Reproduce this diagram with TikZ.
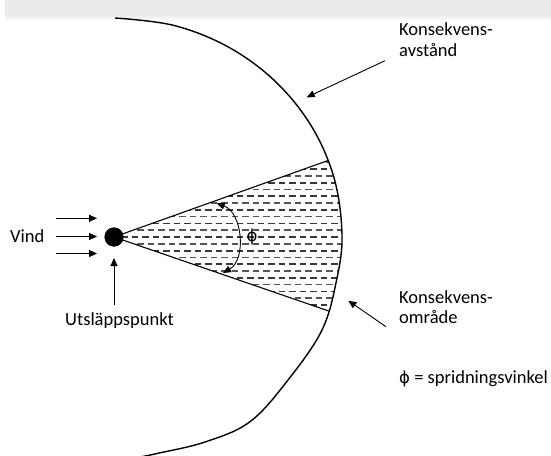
\documentclass[tikz,border=0pt]{standalone}
\usepackage{fontspec}
\setmainfont{Carlito}
\newfontfamily\phifont{DejaVu Sans}
\usetikzlibrary{arrows.meta}
\definecolor{bandgray}{RGB}{235,235,233}
\definecolor{dashdark}{RGB}{55,55,55}
\definecolor{dashlight}{RGB}{85,85,85}
\newcommand{\phig}{{\phifont\fontsize{16.5}{20}\selectfont ϕ}}
\begin{document}
\begin{tikzpicture}[x=1pt,y=-1pt,
  lbl/.style={font=\fontsize{18.5}{20.7}\selectfont, inner sep=0, align=left, anchor=base west},
  arr/.style={line width=0.9pt, -{Triangle[length=8pt,width=7pt]}},
  dblarr/.style={line width=0.9pt, {Triangle[length=8pt,width=7pt]}-{Triangle[length=8pt,width=7pt]}},
  edge/.style={line width=1.1pt},
  bigarc/.style={line width=1.4pt},
  dot/.style={circle, fill=black, minimum size=19pt, inner sep=0}]
\useasboundingbox (0,0) rectangle (551,455);
% top band
\fill[bandgray] (5,0) rectangle (551,15);
\shade[top color=bandgray, bottom color=white] (5,15) rectangle (551,21);

% coordinates of the cone
\coordinate (ct) at (327.8,160.6);
\coordinate (cb) at (329.3,311.2);
\node[dot] (src) at (114,237) {};

% hatch inside cone
\begin{scope}
  \clip (114,237) -- (ct) -- (334.3,178.8) -- (339.5,205) -- (342,235) -- (339.5,265) -- (335,290) -- (cb) -- cycle;
  \foreach \i in {-12,...,12} {
    \pgfmathtruncatemacro{\od}{mod(\i+12,2)}
    \ifnum\od=0
      \draw[dashdark, line width=1.8pt, dash pattern=on 6.5pt off 4pt, dash phase=0pt] (100,237+\i*6.8) -- (350,237+\i*6.8);
    \else
      \draw[dashlight, line width=1.6pt, dash pattern=on 6.5pt off 4pt, dash phase=5pt] (100,237+\i*6.8) -- (350,237+\i*6.8);
    \fi
  }
\end{scope}

% cone edges
\draw[edge] (src.center) -- (ct);
\draw[edge] (src.center) -- (cb);
\node[dot] at (src) {};

% consequence distance arc
\draw[bigarc] plot[smooth, tension=0.6] coordinates {(115,18) (173.8,25.4) (228.5,47.1) (275.5,81.6) (311.6,126.5) (334.3,178.8) (342,235) (336.6,280) (322,330) (288,380) (250,421.7) (205,442) (157,453.5) (140,457)};

% wind arrows
\coordinate (w1a) at (56,218.3); \coordinate (w1b) at (97,218.3);
\coordinate (w2a) at (56,236.5); \coordinate (w2b) at (97,236.5);
\coordinate (w3a) at (56,253.5); \coordinate (w3b) at (97,253.5);
\draw[arr] (w1a) -- (w1b);
\draw[arr] (w2a) -- (w2b);
\draw[arr] (w3a) -- (w3b);
\node[lbl] (vind) at (10,242.3) {Vind};

% release point
\coordinate (ut) at (114,305);
\draw[arr] (ut) -- (114,258);
\node[lbl] (utsl) at (65,325) {Utsläppspunkt};

% spread angle
\coordinate (pa) at (216.7,203.3);
\coordinate (pb) at (223,273);
\draw[dblarr] (pa) to[bend left=65] (pb);
\node[inner sep=0] (phi) at (252,237) {\phig};

% labels at right
\node[lbl] (kavst) at (399,56) {Konsekvens-\\avstånd};
\coordinate (ka1) at (385,60.7);
\coordinate (ka2) at (306.7,97.3);
\draw[arr] (ka1) -- (ka2);

\node[lbl] (komr) at (399,323.7) {Konsekvens-\\område};
\coordinate (ko1) at (386,326.7);
\coordinate (ko2) at (348.3,300.7);
\draw[arr] (ko1) -- (ko2);

\node[lbl] (def) at (399,383) {\phig{} = spridningsvinkel};
\end{tikzpicture}
\end{document}
